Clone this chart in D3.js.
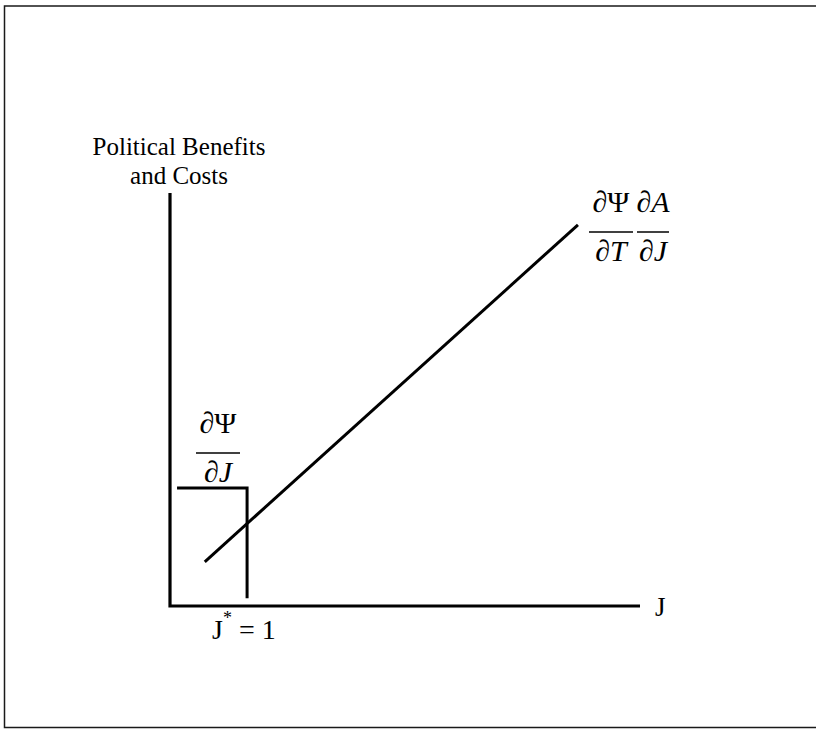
<!DOCTYPE html>
<html lang="en">
<head>
<meta charset="UTF-8">
<title>Political Benefits and Costs</title>
<script src="https://d3js.org/d3.v7.min.js"></script>
<style>
  body { margin: 0; background: #fff; }
  svg { display: block; font-family: "Liberation Serif", "Times New Roman", serif; }
</style>
</head>
<body>
<div id="chart"></div>
<script>
// diagram values in arbitrary units (0..100 on both axes)
const axisMax = [100, 100];
const jStar = 16.4;
const benefitLevel = 28.6;       // dPsi/dJ, flat until J* then drops
const benefitFloor = 1.9;
const benefitStart = 1.5;
const costJ = [7.4, 86.8];        // dPsi/dT * dA/dJ, rising line
const costV = [10.7, 92.3];
const yTitle = ["Political Benefits", "and Costs"];

const w = 816, h = 729;
const x = d3.scaleLinear().domain([0, axisMax[0]]).range([170, 640]);
const y = d3.scaleLinear().domain([0, axisMax[1]]).range([606, 193]);

const svg = d3.select("#chart").append("svg")
    .attr("width", w).attr("height", h);

// frame (open on right, like the scan)
svg.append("path")
    .attr("d", "M820,6 H4.5 V727.5 H820")
    .attr("fill", "none").attr("stroke", "#1a1a1a").attr("stroke-width", 1.5);

const line = d3.line().x(d => x(d[0])).y(d => y(d[1]));
const ink = "#000";

// axes
svg.append("path")
    .attr("d", line([[0, axisMax[1]], [0, 0], [axisMax[0], 0]]))
    .attr("fill", "none").attr("stroke", ink).attr("stroke-width", 3.2);

// marginal benefit step
svg.append("path")
    .attr("d", line([[benefitStart, benefitLevel], [jStar, benefitLevel], [jStar, benefitFloor]]))
    .attr("fill", "none").attr("stroke", ink).attr("stroke-width", 3);

// marginal cost line
svg.append("path")
    .attr("d", line(d3.zip(costJ, costV)))
    .attr("fill", "none").attr("stroke", ink).attr("stroke-width", 3);

// y title
svg.append("text")
    .attr("text-anchor", "middle").attr("font-size", 25)
    .selectAll("tspan").data(yTitle).join("tspan")
    .attr("x", 179).attr("y", (d, i) => 155 + i * 29)
    .text(d => d);

// J label
svg.append("text")
    .attr("x", x(axisMax[0]) + 15).attr("y", y(0) + 10)
    .attr("font-size", 27).text("J");

// J* = 1
const js = svg.append("text")
    .attr("x", 212).attr("y", 639).attr("font-size", 28);
js.append("tspan").text("J");
js.append("tspan").attr("dy", -15).attr("font-size", 18).text("*");
js.append("tspan").attr("dy", 15).text(" = 1");

// fraction helper
function frac(cx, lineY, lineW, num, den) {
  const g = svg.append("g");
  const t1 = g.append("text").attr("x", cx).attr("y", lineY - 20)
      .attr("text-anchor", "middle").attr("font-size", 30);
  num.forEach(p => t1.append("tspan").attr("font-style", p[1] ? "italic" : "normal").text(p[0]));
  g.append("line")
      .attr("x1", cx - lineW / 2).attr("x2", cx + lineW / 2)
      .attr("y1", lineY).attr("y2", lineY)
      .attr("stroke", ink).attr("stroke-width", 1.5);
  const t2 = g.append("text").attr("x", cx).attr("y", lineY + 29)
      .attr("text-anchor", "middle").attr("font-size", 30);
  den.forEach(p => t2.append("tspan").attr("font-style", p[1] ? "italic" : "normal").text(p[0]));
}

frac(218, 453, 44, [["\u2202", true], ["\u03A8", false]], [["\u2202", true], ["J", true]]);
frac(611, 232, 44, [["\u2202", true], ["\u03A8", false]], [["\u2202", true], ["T", true]]);
frac(653, 232, 32, [["\u2202", true], ["A", true]], [["\u2202", true], ["J", true]]);
</script>
</body>
</html>
